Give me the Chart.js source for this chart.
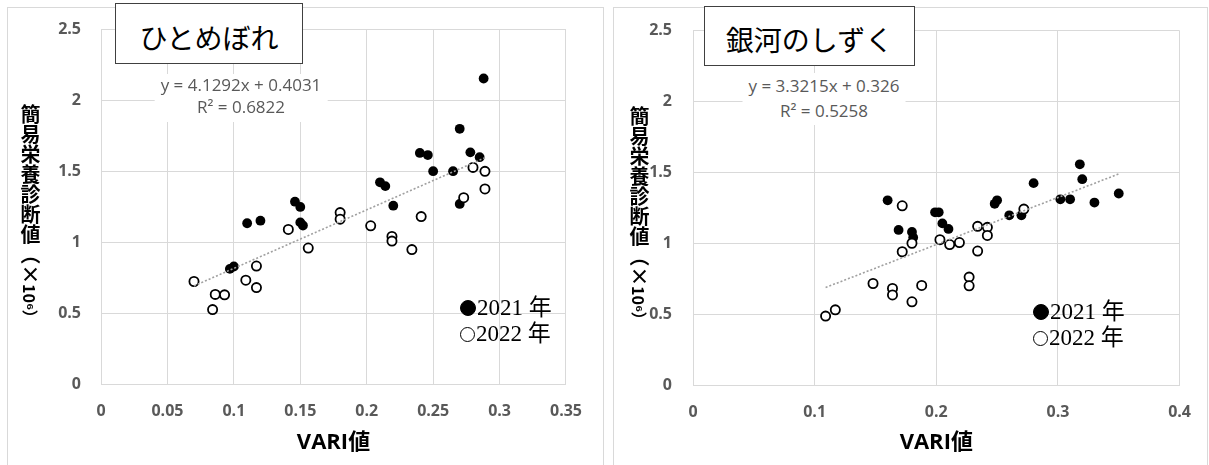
<!DOCTYPE html>
<html>
<head>
<meta charset="utf-8">
<script src="https://cdn.jsdelivr.net/npm/chart.js@4.4.0/dist/chart.umd.min.js"></script>
<style>
  body { margin: 0; width: 1209px; height: 465px; overflow: hidden; background: #fff; position: relative; }
  .panel { position: absolute; border: 1px solid #d9d9d9; box-sizing: border-box; }
  canvas { position: absolute; top: 0; }
  .title { position: absolute; border: 1px solid #404040; background: #fff; box-sizing: border-box;
    display: flex; align-items: center; justify-content: center; padding-top: 6px;
    font-family: "Noto Sans CJK JP", sans-serif; font-size: 28px; color: #000; }
  .eq { position: absolute; background: #fff; color: #595959; transform: translateX(-50%);
    font-family: "Open Sans", sans-serif; font-size: 17px; text-align: center; white-space: nowrap; padding: 0 6px; }
  .ytitle { position: absolute; writing-mode: vertical-rl; transform: translateX(-50%);
    font-family: "Noto Sans CJK JP", sans-serif; font-weight: bold; font-size: 20px; line-height: 1; color: #000; }
  .ytitle .unit { font-size: 16px; }
  .legend { position: absolute; font-family: "Liberation Serif", "Noto Sans CJK JP", serif; font-size: 23px; line-height: 26px; color: #000; white-space: nowrap; }
  .legend .dot { display: inline-block; width: 15px; height: 15px; border-radius: 50%; border: 1.5px solid #000;
    box-sizing: border-box; vertical-align: -1px; margin-right: 1px; }
  .legend .dot.fill { background: #000; width: 16px; height: 16px; }
</style>
</head>
<body>
<div class="panel" style="left:7px;top:7px;width:597px;height:470px;"></div>
<div class="panel" style="left:613px;top:7px;width:595px;height:470px;"></div>

<canvas id="left" width="600" height="465" style="left:0"></canvas>
<canvas id="right" width="609" height="465" style="left:600px"></canvas>

<div class="title" style="left:115px;top:3px;width:188px;height:61px;">ひとめぼれ</div>
<div class="title" style="left:704px;top:6px;width:211px;height:60px;">銀河のしずく</div>

<div class="eq" style="left:241px;top:74px;line-height:22px;padding-bottom:4px;">y = 4.1292x + 0.4031<br>R² = 0.6822</div>
<div class="eq" style="left:824px;top:73px;line-height:25px;padding-bottom:2px;">y = 3.3215x + 0.326<br>R² = 0.5258</div>

<div class="ytitle" style="left:30px;top:104px;">簡易栄養診断値（×<span class="unit">10⁶）</span></div>
<div class="ytitle" style="left:639px;top:106px;">簡易栄養診断値（×<span class="unit">10⁶）</span></div>

<div class="legend" style="left:460px;top:295px;"><span class="dot fill"></span>2021 年<br><span class="dot"></span>2022 年</div>
<div class="legend" style="left:1033px;top:299px;"><span class="dot fill"></span>2021 年<br><span class="dot"></span>2022 年</div>

<script>
// ひとめぼれ
const leftVari2021 = [0.288, 0.270, 0.240, 0.246, 0.278, 0.285, 0.250, 0.265, 0.210, 0.214,
                      0.220, 0.270, 0.146, 0.150, 0.150, 0.152, 0.110, 0.120, 0.097, 0.100];
const leftVal2021  = [2.155, 1.800, 1.630, 1.615, 1.634, 1.600, 1.501, 1.501, 1.423, 1.396,
                      1.258, 1.270, 1.286, 1.249, 1.140, 1.118, 1.134, 1.152, 0.812, 0.829];
const leftVari2022 = [0.280, 0.289, 0.289, 0.273, 0.241, 0.180, 0.180, 0.203, 0.219, 0.219,
                      0.234, 0.141, 0.156, 0.117, 0.109, 0.117, 0.070, 0.086, 0.093, 0.084];
const leftVal2022  = [1.528, 1.500, 1.376, 1.314, 1.181, 1.209, 1.163, 1.116, 1.041, 1.008,
                      0.948, 1.090, 0.959, 0.832, 0.732, 0.680, 0.723, 0.632, 0.629, 0.525];
const leftTrendX = [0.070, 0.289];
const leftTrendY = [0.692, 1.596];

// 銀河のしずく
const rightVari2021 = [0.318, 0.320, 0.280, 0.350, 0.302, 0.310, 0.330, 0.250, 0.248, 0.260,
                       0.270, 0.160, 0.199, 0.202, 0.205, 0.210, 0.169, 0.180, 0.181];
const rightVal2021  = [1.557, 1.452, 1.424, 1.351, 1.310, 1.310, 1.287, 1.303, 1.278, 1.197,
                       1.197, 1.303, 1.218, 1.218, 1.140, 1.101, 1.094, 1.080, 1.040];
const rightVari2022 = [0.272, 0.234, 0.242, 0.242, 0.234, 0.203, 0.211, 0.219, 0.172, 0.180,
                       0.172, 0.227, 0.227, 0.148, 0.164, 0.164, 0.188, 0.180, 0.109, 0.117];
const rightVal2022  = [1.241, 1.119, 1.112, 1.055, 0.945, 1.025, 0.991, 1.005, 1.264, 1.000,
                       0.940, 0.761, 0.700, 0.716, 0.681, 0.635, 0.702, 0.587, 0.486, 0.530];
const rightTrendX = [0.109, 0.350];
const rightTrendY = [0.688, 1.489];

const yTicks = [0, 0.5, 1, 1.5, 2, 2.5];
const yTickLabels = ['0', '0.5', '1', '1.5', '2', '2.5'];
const leftXTicks = [0, 0.05, 0.1, 0.15, 0.2, 0.25, 0.3, 0.35];
const leftXTickLabels = ['0', '0.05', '0.1', '0.15', '0.2', '0.25', '0.3', '0.35'];
const rightXTicks = [0, 0.1, 0.2, 0.3, 0.4];
const rightXTickLabels = ['0', '0.1', '0.2', '0.3', '0.4'];

const gridColor = '#d9d9d9';
const tickFont = { family: '"Open Sans", sans-serif', size: 16, weight: 'bold' };

const toPoints = (xs, ys) => xs.map((x, i) => ({ x, y: ys[i] }));

function drawScatter(id, d) {
  new Chart(document.getElementById(id), {
    type: 'scatter',
    data: {
      datasets: [
        {
          type: 'line',
          data: toPoints(d.trendX, d.trendY),
          borderColor: '#a0a0a0',
          borderWidth: 1.6,
          borderDash: [2, 2],
          pointRadius: 0,
          fill: false
        },
        {
          data: toPoints(d.x2022, d.y2022),
          backgroundColor: '#fff',
          borderColor: '#000',
          borderWidth: 1.8,
          pointRadius: 4.6
        },
        {
          data: toPoints(d.x2021, d.y2021),
          backgroundColor: '#000',
          borderColor: '#000',
          borderWidth: 0,
          pointRadius: 4.9
        }
      ]
    },
    options: {
      responsive: false,
      animation: false,
      devicePixelRatio: 1,
      layout: { padding: d.padding },
      plugins: { legend: { display: false }, tooltip: { enabled: false } },
      scales: {
        x: {
          type: 'linear',
          min: d.xTicks[0],
          max: d.xTicks[d.xTicks.length - 1],
          afterBuildTicks: s => { s.ticks = d.xTicks.map(v => ({ value: v })); },
          afterFit: s => { s.height = d.xHeight; },
          grid: { color: gridColor, drawTicks: false },
          border: { color: gridColor },
          ticks: {
            padding: 18,
            color: '#595959',
            font: tickFont,
            maxRotation: 0,
            callback: (v, i) => d.xLabels[i]
          },
          title: {
            display: true,
            text: 'VARI値',
            color: '#000',
            font: { family: '"Open Sans", "Noto Sans CJK JP", sans-serif', size: 22, weight: 'bold' },
            padding: { bottom: 9 }
          }
        },
        y: {
          min: 0,
          max: 2.5,
          afterBuildTicks: s => { s.ticks = yTicks.map(v => ({ value: v })); },
          afterFit: s => { s.width = d.yWidth; },
          grid: { color: gridColor, drawTicks: false },
          border: { color: gridColor },
          ticks: {
            padding: d.yPad,
            color: '#595959',
            font: tickFont,
            callback: (v, i) => yTickLabels[i]
          }
        }
      }
    }
  });
}

drawScatter('left', {
  x2021: leftVari2021, y2021: leftVal2021,
  x2022: leftVari2022, y2022: leftVal2022,
  trendX: leftTrendX, trendY: leftTrendY,
  xTicks: leftXTicks, xLabels: leftXTickLabels,
  padding: { top: 22, right: 23, left: 0, bottom: 0 },
  yWidth: 101, xHeight: 81, yPad: 20
});

drawScatter('right', {
  x2021: rightVari2021, y2021: rightVal2021,
  x2022: rightVari2022, y2022: rightVal2022,
  trendX: rightTrendX, trendY: rightTrendY,
  xTicks: rightXTicks, xLabels: rightXTickLabels,
  padding: { top: 22, right: 22, left: 0, bottom: 0 },
  yWidth: 93, xHeight: 80, yPad: 21
});
</script>
</body>
</html>
